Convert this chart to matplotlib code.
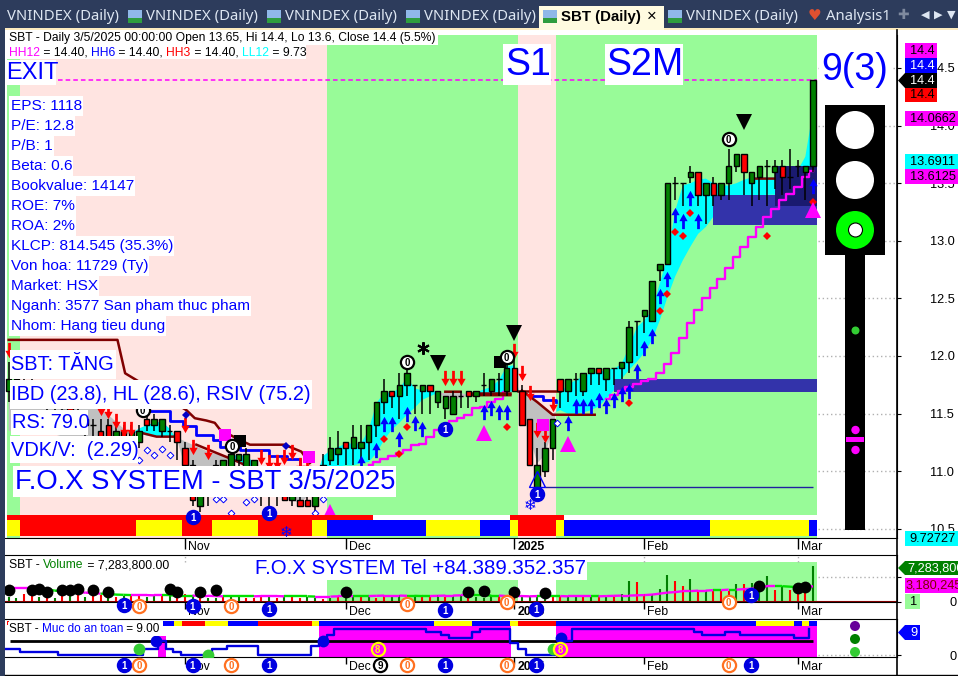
import numpy as np
import matplotlib
matplotlib.use("Agg")
import matplotlib.pyplot as plt
import matplotlib.transforms as mt
from matplotlib.patches import Rectangle, Circle, Polygon
from matplotlib.path import Path

plt.rcParams['font.family'] = ['Liberation Sans', 'DejaVu Sans']

W, H = 958, 676
BAR0, BARW = 8.7, 7.66

opens = [11.70,11.80,11.70,11.75,11.65,11.70,11.60,11.65,11.55,11.50,11.45,11.40,11.35,11.40,11.30,11.35,11.30,11.25,11.45,11.40,11.35,11.35,11.35,11.20,11.05,10.70,10.80,10.85,10.90,10.95,11.10,10.95,10.90,10.90,10.85,10.80,10.80,10.75,10.75,10.75,10.70,10.95,11.10,11.15,11.25,11.20,11.20,11.25,11.40,11.60,11.70,11.65,11.75,11.75,11.70,11.75,11.60,11.55,11.50,11.65,11.70,11.65,11.75,11.70,11.80,11.70,11.90,11.70,11.45,10.85,11.00,11.20,11.80,11.70,11.80,11.70,11.85,11.90,11.80,11.90,11.90,11.95,12.30,12.35,12.30,12.75,12.80,13.50,13.50,13.55,13.60,13.40,13.50,13.40,13.50,13.65,13.75,13.50,13.55,13.65,13.60,13.65,13.55,13.65,13.60,13.65]
highs = [11.95,11.85,11.80,11.80,11.75,11.75,11.70,11.70,11.60,11.55,11.50,11.45,11.45,11.45,11.40,11.40,11.40,11.40,11.50,11.50,11.45,11.40,11.35,11.25,11.10,10.85,11.00,11.10,11.10,11.15,11.15,11.20,11.10,11.00,10.95,10.90,10.90,10.85,10.85,10.85,10.85,11.15,11.30,11.35,11.25,11.40,11.40,11.40,11.60,11.80,11.70,11.85,11.90,11.75,11.75,11.75,11.70,11.65,11.70,11.70,11.70,11.70,11.85,11.80,11.85,12.00,12.00,11.75,11.45,11.20,11.25,11.45,11.80,11.80,11.85,11.85,11.90,11.90,11.90,11.90,11.95,12.30,12.30,12.40,12.65,12.80,13.50,13.55,13.50,13.65,13.60,13.50,13.55,13.50,13.80,13.75,13.75,13.60,13.65,13.70,13.70,13.70,13.80,13.70,13.65,14.40]
lows = [11.60,11.60,11.60,11.60,11.55,11.50,11.50,11.50,11.45,11.40,11.30,11.30,11.25,11.25,11.20,11.25,11.25,11.20,11.35,11.35,11.30,11.25,11.10,10.95,10.70,10.65,10.70,10.75,10.80,10.85,10.95,10.85,10.75,10.70,10.70,10.70,10.75,10.70,10.70,10.70,10.65,10.75,11.05,11.05,11.05,11.05,11.10,11.10,11.30,11.50,11.55,11.45,11.65,11.50,11.50,11.50,11.55,11.45,11.50,11.55,11.55,11.60,11.65,11.65,11.65,11.65,11.70,11.40,11.05,10.85,10.95,11.10,11.55,11.60,11.65,11.65,11.75,11.75,11.70,11.75,11.80,11.85,12.00,12.20,12.30,12.65,12.80,13.35,13.30,13.50,13.30,13.15,13.30,13.35,13.35,13.60,13.40,13.30,13.35,13.30,13.45,13.40,13.45,13.55,13.35,13.60]
closes = [11.80,11.70,11.75,11.65,11.70,11.60,11.65,11.55,11.50,11.45,11.40,11.40,11.30,11.30,11.35,11.30,11.35,11.35,11.40,11.45,11.45,11.35,11.25,11.05,10.75,10.80,10.85,11.05,11.10,11.15,11.15,11.15,11.10,10.85,10.80,10.80,10.75,10.80,10.70,10.70,10.80,11.05,11.20,11.20,11.20,11.30,11.25,11.40,11.60,11.70,11.65,11.75,11.85,11.75,11.75,11.70,11.70,11.65,11.65,11.65,11.65,11.70,11.75,11.80,11.80,11.90,11.70,11.40,11.05,11.05,11.20,11.45,11.70,11.80,11.80,11.85,11.90,11.85,11.90,11.90,11.95,12.25,12.30,12.40,12.65,12.80,13.50,13.50,13.50,13.60,13.40,13.50,13.40,13.50,13.65,13.75,13.60,13.60,13.65,13.65,13.65,13.55,13.55,13.65,13.65,14.40]

ma_fast = [11.35,11.35,11.35,11.35,11.35,11.35,11.32,11.30,11.30,11.30,11.30,11.30,11.30,11.30,11.30,11.31,11.33,11.37,11.40,11.42,11.43,11.37,11.27,11.04,10.98,10.92,10.92,10.92,10.98,11.13,11.14,11.13,11.08,10.98,10.85,10.80,10.78,10.75,10.72,10.78,10.90,11.13,11.18,11.21,11.24,11.24,11.24,11.36,11.59,11.68,11.68,11.72,11.81,11.72,11.70,11.70,11.69,11.63,11.63,11.63,11.66,11.68,11.71,11.73,11.79,11.91,11.92,11.53,11.30,11.07,11.14,11.36,11.68,11.75,11.79,11.82,11.85,11.86,11.88,11.89,11.93,12.08,12.25,12.31,12.40,12.63,12.86,13.26,13.48,13.50,13.53,13.54,13.50,13.48,13.48,13.50,13.53,13.55,13.55,13.55,13.55,13.55,13.60,13.61,13.73,14.13]
ma_slow = [11.75,11.74,11.72,11.70,11.68,11.66,11.64,11.62,11.60,11.58,11.56,11.55,11.53,11.49,11.43,11.37,11.34,11.33,11.31,11.30,11.30,11.30,11.29,11.26,11.23,11.20,11.17,11.15,11.14,11.10,11.07,11.05,11.02,10.98,10.95,10.92,10.88,10.84,10.78,10.80,10.82,11.04,11.01,11.04,11.05,11.05,11.07,11.08,11.155,11.27,11.36,11.42,11.49,11.55,11.62,11.65,11.68,11.68,11.68,11.68,11.66,11.66,11.66,11.66,11.68,11.69,11.69,11.68,11.65,11.59,11.55,11.50,11.53,11.50,11.50,11.51,11.53,11.56,11.63,11.70,11.80,11.88,11.95,12.03,12.14,12.31,12.51,12.69,12.83,12.95,13.06,13.12,13.21,13.27,13.32,13.35,13.37,13.38,13.39,13.40,13.40,13.40,13.40,13.40,13.40,13.40]

stop_bars = [0,9,14.2,15.2,23.2,24.3,25.8,26.9,27.6,30.2,31.5,36,38.2,39.3]
stop_price = [12.14,12.14,12.14,11.85,11.53,11.46,11.44,11.42,11.36,11.27,11.23,11.23,11.17,11.07]
stop2_bars = [16.9,19.3,21.5,np.nan,24.5,26.7,29.3,31,np.nan,57,59,np.nan,60.5,65.5,np.nan,67,69,71,72,76.5,np.nan,97.6,100]
stop2_price = [11.34,11.30,11.30,np.nan,11.23,11.17,11.10,11.05,np.nan,11.69,11.69,np.nan,11.66,11.66,np.nan,11.70,11.60,11.49,11.49,11.49,np.nan,13.54,13.54]
stop3_bars = [60,65.5,np.nan,66.5,72]
stop3_price = [11.68,11.68,np.nan,11.70,11.70]
trail_bars = [13,17.1,21,22.8,24.5,26.7,27.6,30.2,34,36.3,38,np.nan,68.5,69.8,71.5]
trail_price = [11.59,11.52,11.44,11.39,11.31,11.27,11.21,11.18,11.13,11.11,11.05,np.nan,11.65,11.62,11.60]

lad1_bars = list(range(47,66))
lad1_price = [11.05,11.08,11.11,11.13,11.155,11.18,11.23,11.24,11.30,11.36,11.40,11.44,11.46,11.49,11.55,11.56,11.60,11.63,11.69]
lad2_bars = list(range(78,106))
lad2_price = [11.63,11.66,11.70,11.73,11.76,11.78,11.80,11.85,11.93,12.03,12.16,12.29,12.40,12.50,12.59,12.67,12.76,12.86,12.95,13.03,13.12,13.21,13.28,13.35,13.41,13.47,13.55,13.61]

arrow_up_bars = [46,48,49,50,51,52,53,54,62,63,64,65,73,74,75,76,77,78,79,80,81,82,83,84,85,86,87,88,89,90,105]
arrow_up_price = [11.07,11.18,11.41,11.41,11.28,11.50,11.42,11.37,11.51,11.55,11.51,11.51,11.42,11.57,11.57,11.57,11.62,11.57,11.62,11.67,11.70,11.87,12.07,12.17,12.52,12.67,13.22,13.17,13.37,13.17,13.48]
arrow_dn_bars = [0,12,13,14,15,16,23,24,26,33,34,35,36,37,38,39,57,58,59,66,67,68,69,70,71]
arrow_dn_price = [12.05,11.55,11.52,11.44,11.37,11.37,11.40,11.21,11.17,11.12,11.08,11.08,11.12,11.17,11.05,11.05,11.81,11.81,11.81,12.04,11.85,11.68,11.36,11.31,11.58]
dia_bars = [49,52,51,65,81,85,86,87,88,89,99,105]
dia_price = [11.28,11.38,11.15,11.38,11.59,12.39,12.54,13.08,13.04,13.24,13.04,13.34]
tri_bars = [42,62,73,105]
tri_price = [10.65,11.33,11.24,13.27]
dn_tri_bars = [56,66,96]
dn_tri_price = [11.94,12.20,14.03]
hollow_bars = [18,19,20,21,17,27,28,29,31,32,40,41,71.6]
hollow_price = [11.18,11.14,11.19,11.14,11.10,10.76,10.76,10.64,10.73,10.76,10.64,10.76,11.42]
sq_bars = [28.2,39.2,69.8]
sq_price = [11.31,11.12,11.40]
black_sq_bars = [30.2,64.2]
black_sq_price = [11.26,11.95]
blue_dia_bars = [23.2,36.2]
blue_dia_price = [11.49,11.22]
star_bars = [54.1]
star_price = [12.07]
zero_bars = [17.5,29.2,52,65,94]
zero_price = [11.53,11.22,11.95,11.99,13.88]
one_bars = [57,69,24.1,34]
one_price = [11.37,10.80,10.60,10.64]
flake_bars = [36.2,68]
flake_price = [10.47,10.70]

month_pos = [23,44,66,83,103]
month_lab = ['Nov','Dec','2025','Feb','Mar']
price_ticks = [10.5,11.0,11.5,12.0,12.5,13.0,13.5,14.0,14.5]
exit_level = 14.4
floor_level = 10.86

volumes = [1.0,0.8,1.7,1.6,1.0,1.5,0.8,2.1,1.3,1.5,1.0,1.4,1.5,1.2,1.0,1.2,1.7,1.5,1.0,1.2,1.3,1.2,1.4,1.7,1.5,1.1,0.9,0.8,1.0,1.0,1.1,0.9,0.9,1.1,1.2,0.9,1.1,1.0,0.9,1.0,0.8,0.7,0.8,1.0,0.8,1.2,1.1,1.4,0.9,1.3,1.1,1.5,1.2,1.0,1.0,1.2,1.4,1.0,1.3,1.4,1.1,1.0,0.9,1.3,1.2,0.8,0.8,1.0,1.2,1.3,1.2,1.2,1.2,1.3,1.1,1.2,1.1,1.1,1.1,1.2,1.7,4.3,4.0,1.7,1.7,2.7,5.5,4.2,3.2,4.7,2.5,2.5,2.5,2.5,2.2,3.7,3.6,3.8,2.0,5.2,2.5,3.2,2.4,1.7,2.0,7.2838]
vol_sign = "ggrrgrgrgrgrrgrgrrggrgrrgrggrggrrrgrgrrggrgrggrgrrggrgrrgrggrgggrrrggggrrggrgrgrggrrgggrrgrgrrrgrgggrgrrrgg"
vol_ma = [2.8,2.8,2.8,2.8,2.7,2.6,2.3,2.2,2.1,2.0,1.9,1.8,1.7,1.6,1.5,1.45,1.4,1.4,1.4,1.35,1.35,1.35,1.3,1.3,1.3,1.25,1.25,1.2,1.15,1.15,1.15,1.15,1.15,1.2,1.2,1.2,1.15,1.15,1.15,1.15,1.1,1.1,1.1,1.15,1.15,1.2,1.2,1.2,1.25,1.3,1.3,1.3,1.25,1.25,1.2,1.2,1.25,1.3,1.3,1.35,1.35,1.35,1.35,1.3,1.3,1.2,1.2,1.2,1.15,1.2,1.2,1.2,1.2,1.15,1.15,1.15,1.15,1.15,1.2,1.25,1.3,1.3,1.35,1.4,1.5,1.7,1.9,2.0,2.2,2.2,2.3,2.3,2.4,2.4,2.5,2.5,2.6,2.7,2.9,3.2,3.2,3.2,3.1,3.0,3.0,3.18]
vol_dot_bars = [0,3,4,5,7,8,9,11,13,21,22,25,27,44,60,62,66,70,98,103,104]
vol_dot_vals = [2.5,2.5,2.7,2.0,2.5,2.5,2.7,2.4,2.0,2.6,2.1,2.0,2.4,2.0,2.1,2.2,2.0,1.8,3.2,2.9,3.1]
row_one_bars = [15,24,34,57,68.8,96.9]
row_one_vals = [-0.6,-0.8,-1.4,-1.6,-1.4,1.4]
row_zero_bars = [17,29,52,65,94]
row_zero_vals = [-0.8,-0.8,-0.4,0,0]

safety = [2,2,1,1,1,1,1,0,0,0,0,0,0,0,0,0,0,0,2,2,5,2,1,0,0,0,0,2,2,3,3,3,3,0,0,0,0,0,0,0,3,5,7,9,9,9,9,9,9,9,9,9,9,9,9,8,8,7,6,6,6,8,9,9,9,9,4,2,0,0,0,0,0,5,9,9,9,9,9,9,9,9,9,9,9,9,9,9,9,9,8,7,7,7,8,8,7,7,7,7,7,7,7,6,6,9]
safety_green_bars = [17,26,71]
safety_green_vals = [2,0,2]
safety_blue_bars = [19.2,41,72.1]
safety_blue_vals = [5,5,5.8]
safety_eight_bars = [48.2,72]

strip_top = [(-0.2,47.5,'#ff0000'),(47.5,65.5,'#ffffff'),(65.5,72.5,'#ff0000'),(72.5,105.5,'#ffffff')]
strip_low = [(-0.2,1.5,'#ffff00'),(1.5,16.6,'#ff0000'),(16.6,22.6,'#ffff00'),(22.6,26.5,'#ff0000'),(26.5,32.5,'#ffff00'),(32.5,39.6,'#ff0000'),(39.6,41.5,'#ffff00'),(41.5,54.5,'#0000ff'),(54.5,61.5,'#ffff00'),(61.5,65.5,'#0000ff'),(65.5,66.5,'#ffff00'),(66.5,71.5,'#ff0000'),(71.5,72.5,'#ffff00'),(72.5,91.5,'#0000ff'),(91.5,104.5,'#ffff00'),(104.5,105.5,'#0000ff')]
strip_safe = [(20.2,21.6,'#0000ff'),(21.6,22.6,'#ffff00'),(22.6,25.6,'#ff0000'),(25.6,28.6,'#ffff00'),(28.6,32.5,'#0000ff'),(32.5,39.6,'#ff0000'),(39.6,40.5,'#ffff00'),(40.5,55.5,'#0000ff'),(55.5,60.5,'#ffff00'),(60.5,65.5,'#0000ff'),(65.5,66.5,'#ffff00'),(66.5,71.5,'#ff0000'),(71.5,97.5,'#0000ff'),(97.5,102.5,'#ffff00'),(102.5,103.5,'#0000ff'),(103.5,104.5,'#ffff00'),(104.5,105.5,'#0000ff')]
bands = [(-0.2,1.5,'#98fb98'),(1.5,41.5,'#ffe4e1'),(41.5,66.5,'#98fb98'),(66.5,71.5,'#ffe4e1'),(71.5,105.5,'#98fb98')]
vol_bands = [(41.5,66.5),(71.5,105.5)]
safe_mag = [(19.5,20.5,6.6),(40.5,65.6,10.03),(71.4,105.5,10.03)]

stats = ['EPS: 1118','P/E: 12.8','P/B: 1','Beta: 0.6','Bookvalue: 14147','ROE: 7%','ROA: 2%','KLCP: 814.545 (35.3%)','Von hoa: 11729 (Ty)','Market: HSX','Nganh: 3577 San pham thuc pham','Nhom: Hang tieu dung']

fig = plt.figure(figsize=(W/100, H/100), dpi=100, facecolor='white')
def make_ax(l, t, r, b, z):
    return fig.add_axes([l/W, 1-b/H, (r-l)/W, (b-t)/H], zorder=z)
XL = ((5-BAR0)/BARW, (897-BAR0)/BARW)
def p_of(y): return 14.5-(y-68)/115.2

ax = make_ax(5,35,897,538,1)
ax.set_xlim(*XL); ax.set_ylim(p_of(538), p_of(35))
n = len(closes); idx = np.arange(n)
for a,b,c in bands:
    ax.axvspan(a,b,color=c,lw=0,zorder=0)
f = np.array(ma_fast); s = np.array(ma_slow); ix = np.arange(len(f))
ax.fill_between(ix,f,s,where=f>=s,interpolate=True,color='#00ffff',lw=0,zorder=1)
ax.fill_between(ix,f,s,where=f<s,interpolate=True,color='#c0c0c0',lw=0,zorder=1)
ax.hlines(price_ticks,105.6,XL[1],colors='#b0b0b0',linestyles=(0,(1,2)),lw=1,zorder=1)
for a,b,c,d,col in [(92,105.5,13.135,13.395,'#3333aa'),(79,105.5,11.69,11.80,'#3333aa'),(100,105.5,13.30,13.65,'#1a1a70')]:
    ax.add_patch(Rectangle((a,c),b-a,d-c,color=col,lw=0,zorder=2))
ax.plot(lad1_bars,lad1_price,drawstyle='steps-mid',color='#ff00ff',lw=1.7,zorder=3)
ax.plot(lad2_bars,lad2_price,drawstyle='steps-mid',color='#ff00ff',lw=1.7,zorder=3)
ax.plot(trail_bars,trail_price,color='#0000ff',lw=2,zorder=3,drawstyle='steps-post')
ax.plot(stop_bars,stop_price,color='#800000',lw=1.8,zorder=3)
ax.plot(stop2_bars,stop2_price,color='#800000',lw=1.8,zorder=3)
ax.plot(stop3_bars,stop3_price,color='#800000',lw=1.8,zorder=3)
ax.hlines(floor_level,70,105,colors='#2020a0',lw=1,zorder=3)
ax.hlines(exit_level,6.4,105.5,colors='#ff00ff',linestyles=(0,(3,2)),lw=1.1,zorder=3)
# candles
O,Hi,Lo,C = map(np.array,(opens,highs,lows,closes))
ax.vlines(idx,Lo,Hi,colors='black',lw=1.1,zorder=4)
cols = ['#008000' if c>=o else '#ff0000' for o,c in zip(O,C)]
ax.bar(idx,np.abs(C-O),bottom=np.minimum(O,C),width=0.72,color=cols,edgecolor='black',lw=1,zorder=5)
# markers
up = Path([(-.09,-.5),(-.09,.02),(-.27,.02),(0,.5),(.27,.02),(.09,.02),(.09,-.5),(-.09,-.5)],closed=True)
dn = Path([(-.09,.5),(-.09,-.02),(-.27,-.02),(0,-.5),(.27,-.02),(.09,-.02),(.09,.5),(-.09,.5)],closed=True)
ax.plot(arrow_up_bars,arrow_up_price,ls='',marker=up,ms=11,color='#0000ff',mew=0,zorder=6)
ax.plot(arrow_dn_bars,arrow_dn_price,ls='',marker=dn,ms=11,color='#ff0000',mew=0,zorder=6)
ax.plot(dia_bars,dia_price,ls='',marker='D',ms=3.6,color='#ff0000',mew=0,zorder=6)
ax.plot(tri_bars,tri_price,ls='',marker='^',ms=12,color='#ff00ff',mew=0,zorder=6)
ax.plot(dn_tri_bars,dn_tri_price,ls='',marker='v',ms=12,color='black',mew=0,zorder=6)
ax.plot(hollow_bars,hollow_price,ls='',marker='D',ms=3.4,mfc='white',mec='#0000ff',mew=0.7,zorder=6)
ax.plot(sq_bars,sq_price,ls='',marker='s',ms=9,color='#ff00ff',mew=0,zorder=6)
ax.plot(black_sq_bars,black_sq_price,ls='',marker='s',ms=8.5,color='black',mew=0,zorder=6)
ax.plot(blue_dia_bars,blue_dia_price,ls='',marker='D',ms=4,color='#0000c8',mew=0,zorder=6)
ax.plot([69],[10.93],ls='',marker='^',ms=11,mfc='none',mec='#0000ff',mew=1,zorder=6)
ax.plot(star_bars,star_price,ls='',marker=(6,2,0),ms=9,color='black',mew=1.5,zorder=6)
for i,p in zip(flake_bars,flake_price):
    ax.text(i,p,'\u2744',fontsize=11,ha='center',va='center',color='#0000ff',family='DejaVu Sans',zorder=9,clip_on=False)

def badge(a,xs,ys,fc,ec,tc,d,ms=9.5,mew=1.6,clip=False):
    for x,y in zip(xs,ys):
        a.plot([x],[y],ls='',marker='o',ms=ms,mfc=fc,mec=ec,mew=mew,zorder=8,clip_on=clip)
        a.text(x,y,d,ha='center',va='center_baseline',fontsize=7,fontweight='bold',color=tc,zorder=9,clip_on=clip)
badge(ax,zero_bars,zero_price,'white','black','black','0')
badge(ax,one_bars,one_price,'#0000e0','#0000e0','white','1')
# strips
def sb(a,L,y0,h,z=3):
    for s0,s1,c in L:
        a.broken_barh([(s0,s1-s0)],(y0,h),facecolors=c,zorder=z,lw=0)
sb(ax,strip_top,p_of(520),p_of(515)-p_of(520),7)
sb(ax,strip_low,p_of(536),p_of(520)-p_of(536),7)
off = mt.ScaledTranslation(3/100,0,fig.dpi_scale_trans)
def month_axis(a,length,pad):
    a.set_xticks(month_pos); a.set_xticklabels(month_lab,fontsize=8.8,ha='left')
    a.tick_params(axis='x',length=length,width=1,pad=pad,color='black')
    for lab in a.get_xticklabels():
        if lab.get_text()=='2025': lab.set_fontweight('bold')
        lab.set_transform(lab.get_transform()+off)
month_axis(ax,8,-6)
ax.yaxis.tick_right(); ax.set_yticks(price_ticks); ax.set_yticklabels([f'{v:.1f}' for v in price_ticks],fontsize=9.2)
ax.tick_params(axis='y',length=3,pad=21)
for sp in ('top','left'): ax.spines[sp].set_visible(False)

# volume
av = make_ax(5,555,897,602,2)
av.set_xlim(*XL); av.set_ylim(0,47/4.94)
for a,b in vol_bands: av.axvspan(a,b,ymin=0,ymax=40/47,color='#98fb98',lw=0,zorder=0)
av.vlines(month_pos,8.1,9.5,colors='#b0b0b0',linestyles=(0,(1,2)),lw=1,zorder=0)
av.hlines([5],105.6,XL[1],colors='#b0b0b0',linestyles=(0,(1,2)),lw=1,zorder=0)
vx = np.arange(len(volumes))
vcol = ['#008000' if vol_sign[i % len(vol_sign)]=='g' else '#ff0000' for i in vx]
av.vlines(vx,0,volumes,colors=vcol,lw=1.5,zorder=2)
m = np.array(vol_ma); mx = np.arange(len(m))
for i in range(len(m)-1):
    av.plot(mx[i:i+2],m[i:i+2],color='#ff00ff' if (i//4)%2==0 or m[i+1]>m[i] else '#00e000',lw=1.7,zorder=3,solid_capstyle='butt')
av.plot(vol_dot_bars,vol_dot_vals,ls='',marker='o',ms=8.5,color='black',mew=0,zorder=4)
av.axhline(0,color='#800000',lw=1.5,zorder=3)
month_axis(av,5,-2)
av.yaxis.tick_right(); av.set_yticks([0,5]); av.set_yticklabels(['0',''],fontsize=9.2)
av.tick_params(axis='y',length=3,pad=35)
av.spines['left'].set_visible(False)
badge(av,row_one_bars,row_one_vals,'#0000e0','#0000e0','white','1')
badge(av,row_zero_bars,row_zero_vals,'white','#ff7020','#ff7020','0')

# safety
asf = make_ax(5,619,897,657,3)
asf.set_xlim(*XL); asf.set_ylim(-2/2.89,36/2.89)
for a,b,top in safe_mag:
    asf.broken_barh([(a,b-a)],(-0.7,top+0.7),facecolors='#ff00ff',lw=0,zorder=1)
sb(asf,strip_safe,10.03,1.73,2)
asf.broken_barh([(-0.2,0.3)],(10.4,1.3),facecolors='#ff0000',lw=0,zorder=2)
asf.hlines(5,0.2,105,colors='black',lw=2,zorder=2)
sf = np.array(safety)
asf.plot(np.arange(len(sf))-0.5,sf,drawstyle='steps-post',color='#0000e0',lw=1.7,zorder=3)
asf.plot(safety_green_bars,safety_green_vals,ls='',marker='o',ms=8.5,color='#33cc33',mew=0,zorder=4)
asf.plot(safety_blue_bars,safety_blue_vals,ls='',marker='o',ms=8.5,color='#0000e0',mew=0,zorder=4)
badge(asf,safety_eight_bars,[2,2],'#ff00ff','#ffff00','#ffff00','8')
asf.hlines([0],105.6,XL[1],colors='#b0b0b0',linestyles=(0,(1,2)),lw=1,zorder=0)
month_axis(asf,5,-2)
asf.yaxis.tick_right(); asf.set_yticks([0]); asf.set_yticklabels(['0'],fontsize=9.2)
asf.tick_params(axis='y',length=3,pad=35)
asf.spines['left'].set_visible(False)
badge(asf,row_one_bars[:-1]+[96.9],[-3.5]*6,'#0000e0','#0000e0','white','1')
badge(asf,row_zero_bars,[-3.5]*5,'white','#ff7020','#ff7020','0')
badge(asf,[48.5],[-3.5],'white','black','black','9')

# overlay in pixels
ui = fig.add_axes([0,0,1,1],zorder=10); ui.set_xlim(0,W); ui.set_ylim(H,0); ui.axis('off'); ui.patch.set_alpha(0)
R = lambda x0,y0,x1,y1,c,z=1: ui.add_patch(Rectangle((x0,y0),x1-x0,y1-y0,facecolor=c,edgecolor='none',zorder=z))
NAVY='#2d3c5c'
rend = fig.canvas.get_renderer()
R(0,0,W,28,NAVY); R(0,0,5,H,NAVY)
R(5,28,W,30,'#fdecc0')
ui.plot([5,958],[674.5,674.5],color='black',lw=1,zorder=1)
ui.plot([897,897],[30,676],color='black',lw=1.2,zorder=1)
for x,lab in [(7,'VNINDEX (Daily)'),(146,'VNINDEX (Daily)'),(285,'VNINDEX (Daily)'),(424,'VNINDEX (Daily)'),(686,'VNINDEX (Daily)')]:
    ui.text(x,17,lab,color='#dde6f2',fontsize=10.7,va='center',family='Noto Sans',zorder=3)
for x in (128,267,406,668):
    R(x,10,x+14,23,'#8fb8e8',2); R(x,18,x+14,23,'#2e9e3e',3)
R(539,6,664,30,'#fffbe0',2)
R(543,10,557,23,'#8fb8e8',3); R(543,18,557,23,'#2e9e3e',3)
ui.text(561,16.5,'SBT (Daily)',color='black',fontsize=10.8,fontweight='bold',va='center',zorder=3)
ui.text(652,16,'\u00d7',color='black',fontsize=12,ha='center',va='center',zorder=3)
ui.text(814,15,'\u2665',color='#e05030',fontsize=11,ha='center',va='center',family='DejaVu Sans',zorder=3)
ui.text(826,17,'Analysis1',color='#dde6f2',fontsize=10.7,va='center',family='Noto Sans',zorder=3)
ui.text(903,15,'\u271a',color='#7f8a9f',fontsize=10,ha='center',va='center',family='DejaVu Sans',zorder=3)
ui.text(925,15,'\u25c0',color='#dde6f2',fontsize=8,ha='center',va='center',family='DejaVu Sans',zorder=3)
ui.text(938,15,'\u25b6',color='#dde6f2',fontsize=8,ha='center',va='center',family='DejaVu Sans',zorder=3)
ui.text(951,15,'\u25bc',color='#dde6f2',fontsize=8,ha='center',va='center',family='DejaVu Sans',zorder=3)

def box(x0,y0,x1,y1,txt,fs,color='#0000ff',tx=None,bg='white',**kw):
    R(x0,y0,x1,y1,bg,4)
    return ui.text(tx if tx is not None else x0+1,(y0+y1)/2+0.5,txt,fontsize=fs,color=color,va='center',zorder=5,**kw)

def runs(x,y,parts,fs):
    for t,c in parts:
        tt=ui.text(x,y,t,color=c,fontsize=fs,va='center',zorder=5)
        x+=tt.get_window_extent(renderer=rend).width

R(7,32,438,45,'white',4); R(7,45,306,59,'white',4)
ui.text(9,38,'SBT - Daily 3/5/2025 00:00:00 Open 13.65, Hi 14.4, Lo 13.6, Close 14.4 (5.5%)',fontsize=8.75,va='center',zorder=5)
runs(9,52.5,[('HH12',"#ff00ff"),(' = 14.40, ','black'),('HH6','#0000ff'),(' = 14.40, ','black'),('HH3','#ff0000'),(' = 14.40, ','black'),('LL12','#00ffff'),(' = 9.73','black')],8.75)
box(5,60,56,85,'EXIT',17,tx=6)
for k,s_ in enumerate(stats):
    y=106+20*k
    t=ui.text(11,y,s_,fontsize=11.05,color='#0000ff',va='center',zorder=5)
    w=t.get_window_extent(renderer=rend).width
    R(9,y-10,12+w,y+10,'white',4)
box(10,350,116,379,'SBT: TĂNG',14.4,tx=11)
box(10,380,312,409,'IBD (23.8), HL (28.6), RSIV (75.2)',14.4,tx=11)
box(11,410,88,435,'RS: 79.0',14.4,tx=12)
box(10,436,138,463,'VDK/V:  (2.29)',14.4,tx=11)
box(13,466,396,497,'F.O.X SYSTEM - SBT 3/5/2025',19.7,tx=15)
box(503,44,551,85,'S1',27,tx=505)
box(605,44,683,85,'S2M',27,tx=606)
box(819,48,891,92,'9(3)',27,tx=821)
box(254,557,587,580,'F.O.X SYSTEM Tel +84.389.352.357',14.7,tx=255)
R(8,557,171,572,'white',4)
runs(9,565,[('SBT - ','black'),('Volume','#008000'),(' = 7,283,800.00','black')],8.7)
R(8,622,163,636,'white',4)
runs(9,628.5,[('SBT - ','black'),('Muc do an toan','#0000ff'),(' = 9.00','black')],8.5)

# traffic light
R(825,105,885,255,'black',2); R(845,255,865,530,'black',2)
def C_(x,y,r,c,z=3,ec='none',lw=0):
    ui.add_patch(Circle((x,y),r,facecolor=c,edgecolor=ec,lw=lw,zorder=z))
C_(855,130,19,'white'); C_(855,180,19,'white'); C_(855,230,19,'#00ff00'); C_(855.5,230,7,'white',4,'black',0.8)
C_(855.5,330.5,4,'#33cc33'); C_(855.5,430,4.2,'#ff00ff'); R(846,437,864,442,'#ff00ff',3); C_(855.5,450,4.2,'#ff00ff')
C_(855,626,5,'#660099'); C_(855,639,5,'#008000'); C_(855,652,5,'#33cc33')

# value tags
def tag(x0,y0,x1,y1,txt,bg,fc,arrow=False,tx=None):
    R(x0,y0,x1,y1,bg,4)
    if arrow:
        ui.add_patch(Polygon([(x0,y0),(x0-7,(y0+y1)/2),(x0,y1)],facecolor=bg,edgecolor='none',zorder=4))
    ui.text(tx if tx else x0+5,(y0+y1)/2+0.3,txt,fontsize=9.2,color=fc,va='center',zorder=5,clip_on=True)
tag(905,43,937,58,'14.4','#ff00ff','black')
tag(905,58,937,73,'14.4','#0000ff','white')
tag(905,73,937,88,'14.4','black','white',True)
tag(905,88,937,102,'14.4','#ff0000','black')
tag(905,111,958,126,'14.0662','#ff00ff','black',tx=910)
tag(905,154,958,169,'13.6911','#00ffff','black',tx=910)
tag(905,169,958,184,'13.6125','#ff00ff','black',tx=910)
tag(905,531,958,546,'9.72727','#00ffff','black',tx=909)
tag(905,561,958,575,'7,283,800','#008000','white',True,tx=907)
tag(905,578,958,593,'3,180,245','#ff00ff','#800000',tx=906)
tag(905,594,920,609,'1','#98fb98','black',tx=910)
tag(905,625,920,640,'9','#0000ff','white',True,tx=910)

fig.savefig('out.png',dpi=100,facecolor='white')
